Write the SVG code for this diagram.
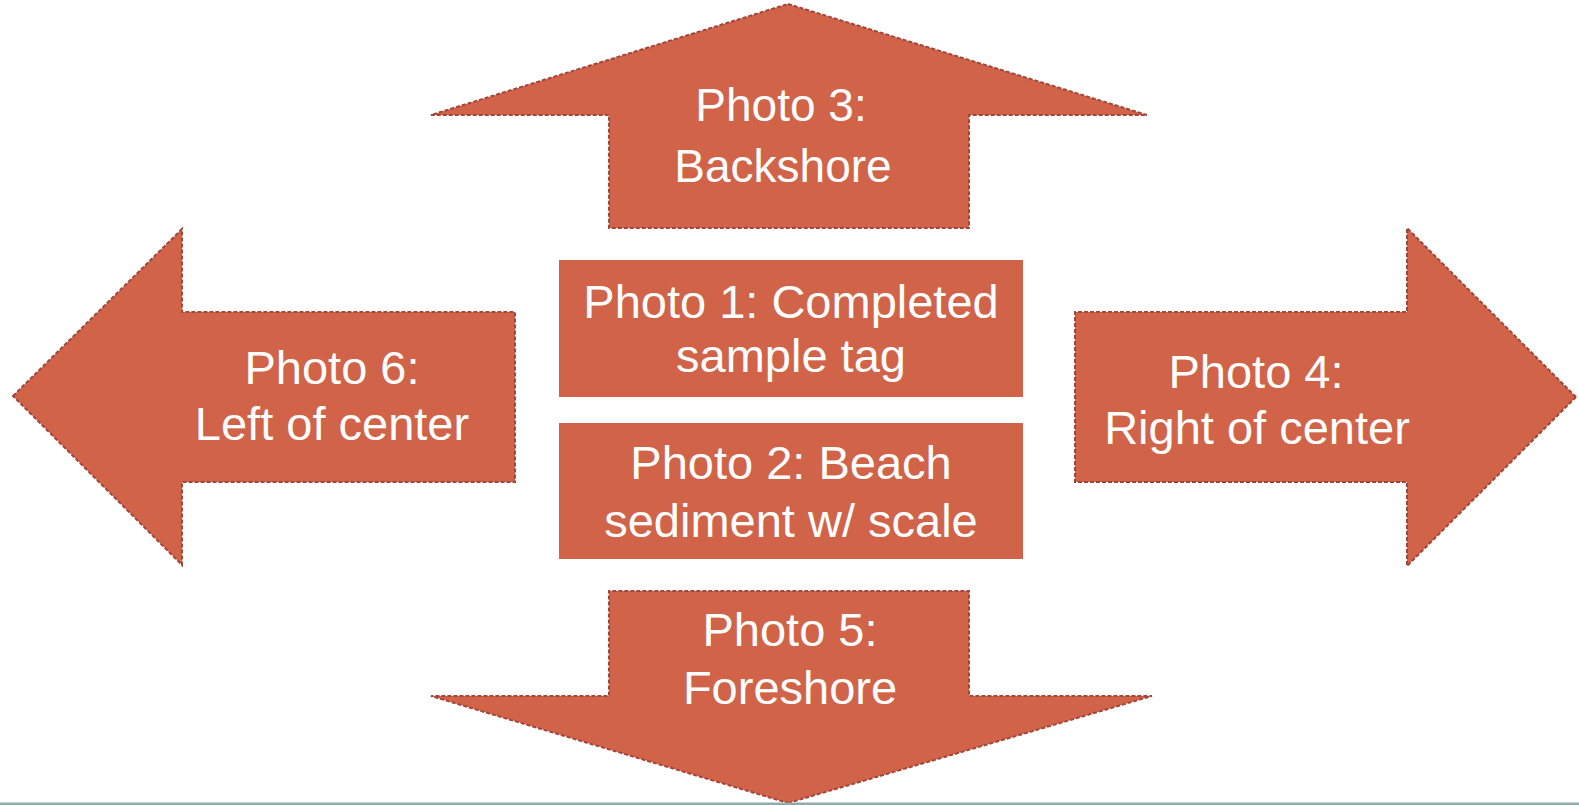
<svg xmlns="http://www.w3.org/2000/svg" width="1579" height="805" viewBox="0 0 1579 805">
<style>
.arrow{fill:#D16349;stroke:#A3463A;stroke-width:2;stroke-dasharray:4 2;stroke-linejoin:miter}
.box{fill:#D16349}
text{font-family:"Liberation Sans",Arial,sans-serif;font-size:47px;fill:#FFFFFF;text-anchor:middle}
</style>
<rect x="0" y="0" width="1579" height="805" fill="#FFFFFF"/>
<g id="photo3">
<path class="arrow" d="M788,4 L1147,115 L969,115 L969,228 L609,228 L609,115 L431,115 Z"/>
<text x="781" y="121" style="font-size:46px">Photo 3:</text>
<text x="783" y="182" style="font-size:46px">Backshore</text>
</g>
<g id="photo6">
<path class="arrow" d="M13,396 L182,229 L182,312 L515,312 L515,482 L182,482 L182,565 Z"/>
<text x="332" y="384">Photo 6:</text>
<text x="332" y="440">Left of center</text>
</g>
<g id="photo4">
<path class="arrow" d="M1576,397 L1407,228 L1407,312 L1075,312 L1075,482 L1407,482 L1407,566 Z"/>
<text x="1256" y="388">Photo 4:</text>
<text x="1257" y="444">Right of center</text>
</g>
<g id="photo5">
<path class="arrow" d="M788,803 L1152,696 L969,696 L969,591 L609,591 L609,696 L431,696 Z"/>
<text x="790" y="646">Photo 5:</text>
<text x="790" y="704">Foreshore</text>
</g>
<g id="photo1">
<rect class="box" x="559" y="260" width="464" height="137"/>
<text x="791" y="318">Photo 1: Completed</text>
<text x="791" y="372">sample tag</text>
</g>
<g id="photo2">
<rect class="box" x="559" y="423" width="464" height="136"/>
<text x="791" y="479">Photo 2: Beach</text>
<text x="791" y="537">sediment w/ scale</text>
</g>
<g id="connectors"></g>
<rect x="0" y="802.5" width="1579" height="2.5" fill="#8DADAD"/>
</svg>
